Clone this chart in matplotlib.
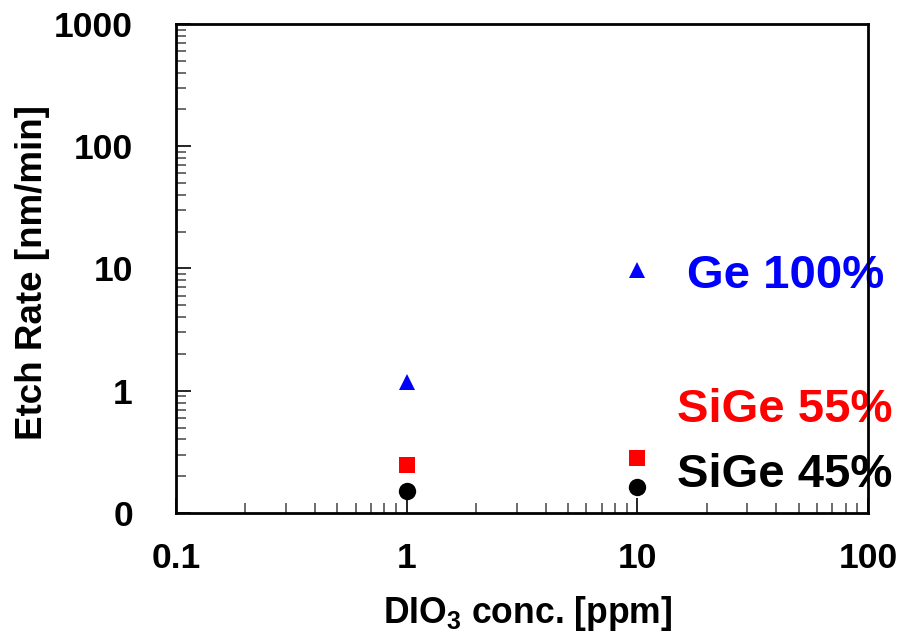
import matplotlib
matplotlib.use("Agg")
import matplotlib.pyplot as plt
from matplotlib.ticker import FixedLocator, FixedFormatter, LogLocator, NullFormatter

plt.rcParams['font.family'] = ['Liberation Sans', 'DejaVu Sans']
plt.rcParams['font.weight'] = 'bold'
plt.rcParams['mathtext.fontset'] = 'custom'
plt.rcParams['mathtext.rm'] = 'Liberation Sans:bold'
plt.rcParams['mathtext.default'] = 'rm'

# DIO3 concentration [ppm]
conc = [1, 10]
# etch rates [nm/min]
ge100 = [1.18, 9.75]
sige55 = [0.245, 0.283]
sige45 = [0.152, 0.164]

x_ticks = [0.1, 1, 10, 100]
x_tick_labels = ["0.1", "1", "10", "100"]
y_ticks = [0.1, 1, 10, 100, 1000]
y_tick_labels = ["0", "1", "10", "100", "1000"]

series_labels = ["Ge 100%", "SiGe 55%", "SiGe 45%"]

fig = plt.figure(figsize=(9.04, 6.36), dpi=100)
ax = fig.add_axes([0.1947, 0.1934, 0.7655, 0.7689])

ax.plot(conc, ge100, linestyle='none', marker='^', markersize=12, color='#0000ff', markeredgewidth=0)
ax.plot(conc, sige55, linestyle='none', marker='s', markersize=12, color='#ff0000', markeredgewidth=0)
ax.plot(conc, sige45, linestyle='none', marker='o', markersize=12.5, color='black', markeredgewidth=0)

ax.set_xscale('log')
ax.set_yscale('log')
ax.set_xlim(0.1, 100)
ax.set_ylim(0.1, 1000)

ax.xaxis.set_major_locator(FixedLocator(x_ticks))
ax.xaxis.set_major_formatter(FixedFormatter(x_tick_labels))
ax.yaxis.set_major_locator(FixedLocator(y_ticks))
ax.yaxis.set_major_formatter(FixedFormatter(y_tick_labels))
ax.xaxis.set_minor_locator(LogLocator(base=10, subs=range(2, 10)))
ax.yaxis.set_minor_locator(LogLocator(base=10, subs=range(2, 10)))
ax.xaxis.set_minor_formatter(NullFormatter())
ax.yaxis.set_minor_formatter(NullFormatter())

ax.tick_params(which='both', direction='in', top=False, right=False, labelsize=25.5)
ax.tick_params(axis='x', which='major', pad=21)
ax.tick_params(axis='y', which='major', pad=31)
ax.tick_params(which='major', length=11, width=1.2)
ax.tick_params(which='minor', length=7, width=1.1, color='#444444')

for sp in ax.spines.values():
    sp.set_linewidth(2)

# axis titles
fig.text(33 / 904, 1 - 272 / 636, "Etch Rate [nm/min]", rotation=90,
         fontsize=26.5, fontweight='bold', ha='center', va='center')
fig.text(528 / 904, 1 - 623 / 636, "DIO$_3$ conc. [ppm]",
         fontsize=25.6, fontweight='bold', ha='center', va='baseline')

# series labels, placed beside the points (spine drawn over them)
ax.text(16.4, 6.96, series_labels[0], color='#0000ff', fontsize=34, fontweight='bold',
        va='baseline', ha='left', clip_on=False, zorder=2)
ax.text(14.86, 0.558, series_labels[1], color='#ff0000', fontsize=34, fontweight='bold',
        va='baseline', ha='left', clip_on=False, zorder=2)
ax.text(14.86, 0.164, series_labels[2], color='black', fontsize=34, fontweight='bold',
        va='baseline', ha='left', clip_on=False, zorder=2)

fig.savefig("out.png", dpi=100)
